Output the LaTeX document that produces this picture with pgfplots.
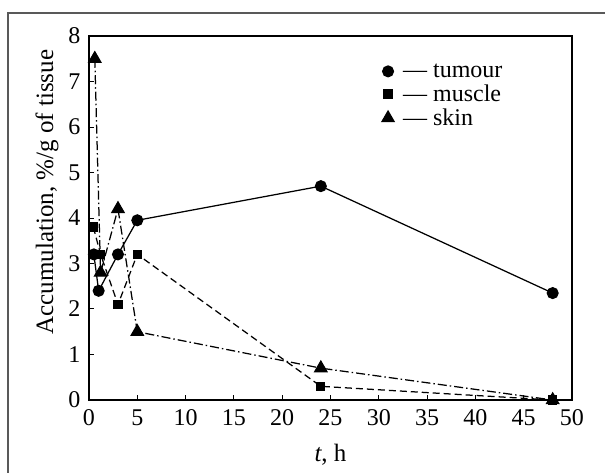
\documentclass[border=0pt]{standalone}
\usepackage{fontspec}
\setmainfont{Liberation Serif}
\usepackage{pgfplots}
\pgfplotsset{compat=1.18}
\begin{document}
\begin{tikzpicture}
\useasboundingbox (-89pt,-73pt) rectangle (516pt,400pt);
\draw[gray!70!black, line width=1.1pt] (-81pt,-80pt) -- (-81pt,387pt) -- (530pt,387pt);
\begin{axis}[
  width=483pt, height=364pt, scale only axis,
  xmin=0, xmax=50, ymin=0, ymax=8,
  xtick={0,5,...,50}, ytick={0,1,...,8},
  tick align=inside, tick pos=left,
  major tick length=5pt,
  axis line style={line width=1.1pt},
  every tick/.style={black, line width=1pt},
  /pgf/number format/assume math mode=true,
  tick label style={font=\fontsize{24}{24}\selectfont},
  xticklabel style={yshift=-6pt},
  yticklabel style={xshift=-5pt},
  xlabel={\textit{t}, h},
  ylabel={Accumulation, \%/g of tissue},
  every axis x label/.style={at={(axis description cs:0.5,-0.151)}, anchor=center, font=\fontsize{25}{25}\selectfont},
  every axis y label/.style={at={(axis description cs:-0.087,0.571)}, anchor=center, rotate=90, font=\fontsize{25}{25}\selectfont},
  legend style={draw=none, fill=none, at={(axis description cs:0.6,0.935)}, anchor=north west,
    font=\fontsize{24}{24}\selectfont, row sep=2pt, cells={anchor=west}},
  legend image code/.code={\draw[#1, only marks, solid] plot coordinates {(0pt,0pt)};},
]
\addplot[black, line width=1.25pt, mark=*, mark size=5.4pt, mark options={solid}]
  coordinates {(0.5,3.2) (1,2.4) (3,3.2) (5,3.95) (24,4.7) (48,2.35)};
\addlegendentry{\hspace{7pt}— tumour}
\addplot[black, line width=1.25pt, dash pattern=on 7pt off 4pt, mark=square*, mark size=4pt, mark options={solid}]
  coordinates {(0.45,3.8) (1.2,3.2) (3,2.1) (5,3.2) (24,0.3) (48,0)};
\addlegendentry{\hspace{7pt}— muscle}
\addplot[black, line width=1.25pt, dash pattern=on 9pt off 3pt on 1.5pt off 3pt, mark=triangle*, mark size=7pt, mark options={solid}]
  coordinates {(0.6,7.5) (1.2,2.8) (3,4.2) (5,1.5) (24,0.7) (48,0)};
\addlegendentry{\hspace{7pt}— skin}
\end{axis}
\end{tikzpicture}
\end{document}
